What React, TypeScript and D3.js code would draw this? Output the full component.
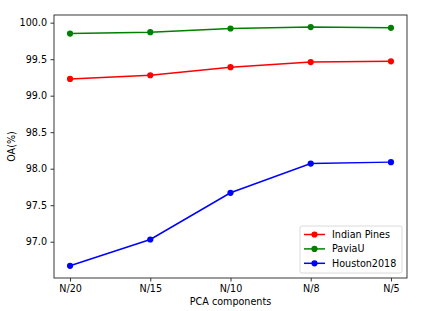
import React, { useEffect, useRef } from 'react';
import * as d3 from 'd3';

const categories = ['N/20', 'N/15', 'N/10', 'N/8', 'N/5'];
const indianPines = [99.23, 99.28, 99.39, 99.46, 99.47];
const paviaU = [99.85, 99.87, 99.92, 99.94, 99.93];
const houston2018 = [96.67, 97.03, 97.67, 98.07, 98.09];
const yTicks = [97.0, 97.5, 98.0, 98.5, 99.0, 99.5, 100.0];

const seriesList = [
  { name: 'Indian Pines', values: indianPines, color: '#ff0000' },
  { name: 'PaviaU', values: paviaU, color: '#008000' },
  { name: 'Houston2018', values: houston2018, color: '#0000ff' },
];

function App() {
  const svgRef = useRef<SVGSVGElement>(null);

  useEffect(() => {
    if (!svgRef.current) return;
    const width = 425;
    const height = 311;
    const margin = { top: 15, right: 18, bottom: 33, left: 54 };
    const font = 'DejaVu Sans, sans-serif';
    const fs = 9.6;

    const svg = d3.select(svgRef.current);
    svg.selectAll('*').remove();

    const x = d3.scaleLinear()
      .domain([-0.2, categories.length - 1 + 0.2])
      .range([margin.left, width - margin.right]);
    const y = d3.scaleLinear()
      .domain([96.503, 100.105])
      .range([height - margin.bottom, margin.top]);

    const g = svg.append('g');

    // y axis
    const yAxis = g.append('g')
      .attr('transform', `translate(${margin.left},0)`)
      .call(d3.axisLeft(y).tickValues(yTicks).tickFormat(d3.format('.1f')).tickSize(3.5).tickPadding(3.5));
    yAxis.select('.domain').remove();
    yAxis.selectAll('line').attr('stroke', '#000').attr('stroke-width', 0.8);
    yAxis.selectAll('text').attr('font-family', font).attr('font-size', fs).attr('fill', '#000');

    // x axis
    const xAxis = g.append('g')
      .attr('transform', `translate(0,${height - margin.bottom})`)
      .call(d3.axisBottom(x).tickValues(d3.range(categories.length)).tickFormat((d) => categories[d as number]).tickSize(3.5).tickPadding(3.5));
    xAxis.select('.domain').remove();
    xAxis.selectAll('line').attr('stroke', '#000').attr('stroke-width', 0.8);
    xAxis.selectAll('text').attr('font-family', font).attr('font-size', fs).attr('fill', '#000');

    // frame
    g.append('rect')
      .attr('x', margin.left)
      .attr('y', margin.top)
      .attr('width', width - margin.left - margin.right)
      .attr('height', height - margin.top - margin.bottom)
      .attr('fill', 'none')
      .attr('stroke', '#222')
      .attr('stroke-width', 0.9);

    const line = d3.line<number>()
      .x((_, i) => x(i))
      .y((d) => y(d));

    seriesList.forEach((s) => {
      g.append('path')
        .datum(s.values)
        .attr('d', line)
        .attr('fill', 'none')
        .attr('stroke', s.color)
        .attr('stroke-width', 1.5);
      g.selectAll(null)
        .data(s.values)
        .enter()
        .append('circle')
        .attr('cx', (_, i) => x(i))
        .attr('cy', (d) => y(d))
        .attr('r', 3.1)
        .attr('fill', s.color);
    });

    // axis labels
    g.append('text')
      .attr('x', (margin.left + width - margin.right) / 2)
      .attr('y', 305)
      .attr('text-anchor', 'middle')
      .attr('font-family', font)
      .attr('font-size', fs)
      .text('PCA components');

    g.append('text')
      .attr('transform', `translate(15,${(margin.top + height - margin.bottom) / 2}) rotate(-90)`)
      .attr('text-anchor', 'middle')
      .attr('font-family', font)
      .attr('font-size', fs)
      .text('OA(%)');

    // legend
    const legend = g.append('g').attr('transform', 'translate(300,226)');
    legend.append('rect')
      .attr('width', 102)
      .attr('height', 47)
      .attr('rx', 2)
      .attr('fill', '#fff')
      .attr('fill-opacity', 0.8)
      .attr('stroke', '#d0d0d0')
      .attr('stroke-width', 0.8);
    seriesList.forEach((s, i) => {
      const ly = 8.5 + i * 14.4;
      legend.append('line')
        .attr('x1', 4).attr('x2', 25)
        .attr('y1', ly).attr('y2', ly)
        .attr('stroke', s.color)
        .attr('stroke-width', 1.5);
      legend.append('circle')
        .attr('cx', 14.5).attr('cy', ly).attr('r', 3.1)
        .attr('fill', s.color);
      legend.append('text')
        .attr('x', 32).attr('y', ly)
        .attr('dy', '0.35em')
        .attr('font-family', font)
        .attr('font-size', fs)
        .text(s.name);
    });
  }, []);

  return (
    <svg ref={svgRef} width={425} height={311}
      style={{ position: 'absolute', left: 0, top: 0, background: '#fff' }} />
  );
}

export default App;
